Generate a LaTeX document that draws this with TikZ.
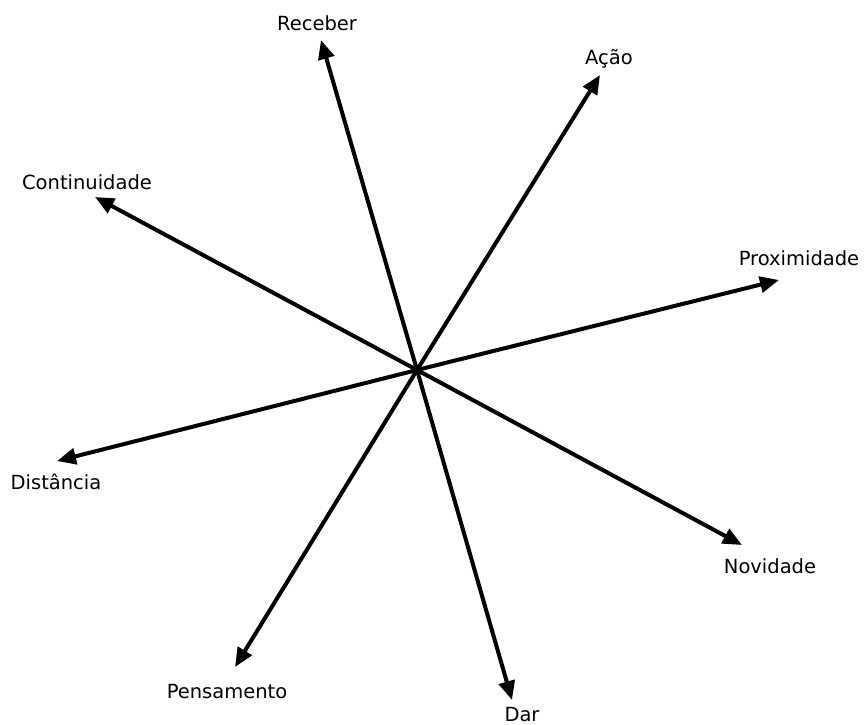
\documentclass[tikz,border=0pt]{standalone}
\usepackage{fontspec}
\setmainfont{DejaVu Sans}
\usetikzlibrary{arrows.meta}
\begin{document}
\begin{tikzpicture}[x=1pt,y=-1pt,
  ray/.style={line width=4pt,-{Triangle[length=19pt,width=16pt]}},
  lbl/.style={inner sep=0pt,anchor=base,font=\fontsize{19.5}{23}\selectfont}]
\useasboundingbox (0,0) rectangle (865,725);
\coordinate (c) at (417,370);
\coordinate (tRec) at (321,40);
\coordinate (tAca) at (600,75);
\coordinate (tCon) at (95,197);
\coordinate (tPro) at (779,280);
\coordinate (tDis) at (57,461);
\coordinate (tNov) at (742,545);
\coordinate (tPen) at (235,667);
\coordinate (tDar) at (512,700);
\foreach \t in {tRec,tAca,tCon,tPro,tDis,tNov,tPen,tDar}
  \draw[ray] (c) -- (\t);
\node[lbl] (lRec) at (317,31) {Receber};
\node[lbl] (lAca) at (609,65) {Ação};
\node[lbl] (lCon) at (87,189) {Continuidade};
\node[lbl] (lPro) at (799,265) {Proximidade};
\node[lbl] (lDis) at (56,489) {Distância};
\node[lbl] (lNov) at (770,573) {Novidade};
\node[lbl] (lPen) at (227,698) {Pensamento};
\node[lbl] (lDar) at (522,721) {Dar};
\end{tikzpicture}
\end{document}
